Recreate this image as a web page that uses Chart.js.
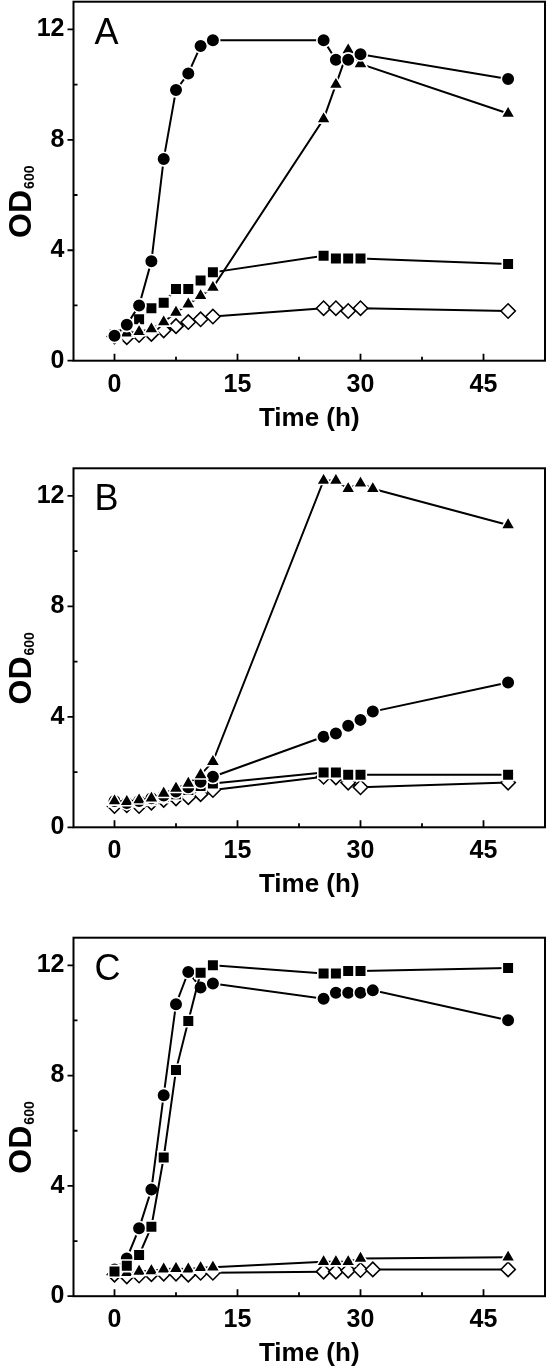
<!DOCTYPE html>
<html><head><meta charset="utf-8">
<script src="https://cdn.jsdelivr.net/npm/chart.js@4.4.1/dist/chart.umd.min.js"></script>
<style>
html,body{margin:0;padding:0;background:#fff;width:550px;height:1371px;overflow:hidden;position:relative}
canvas{position:absolute;left:0}
</style></head><body>
<canvas id="cA" width="550" height="460" style="top:0px"></canvas>
<canvas id="cB" width="550" height="470" style="top:460px"></canvas>
<canvas id="cC" width="550" height="441" style="top:930px"></canvas>
<script>
// ---------- data ----------
const xTicks = [0, 15, 30, 45];
const xMinorTicks = [7.5, 22.5, 37.5, 52.5];
const yTicks = [0, 4, 8, 12];
const yMinorTicks = [2, 6, 10];

const timeShort = [0, 1.5, 3, 4.5, 6, 7.5, 9, 10.5, 12, 25.5, 27, 28.5, 30, 48];
const timeLong  = [0, 1.5, 3, 4.5, 6, 7.5, 9, 10.5, 12, 25.5, 27, 28.5, 30, 31.5, 48];

// Panel A
const A_circle   = [0.9, 1.3, 2.0, 3.6, 7.3, 9.8, 10.4, 11.4, 11.6, 11.6, 10.9, 10.9, 11.1, 10.2];
const A_square   = [0.95, 1.15, 1.5, 1.9, 2.1, 2.6, 2.6, 2.9, 3.2, 3.8, 3.7, 3.7, 3.7, 3.5];
const A_triangle = [0.9, 1.0, 1.05, 1.15, 1.4, 1.75, 2.05, 2.35, 2.65, 8.75, 10.0, 11.25, 10.75, 8.95];
const A_diamond  = [0.88, 0.85, 0.93, 0.97, 1.1, 1.25, 1.4, 1.5, 1.6, 1.9, 1.9, 1.8, 1.9, 1.8];

// Panel B
const B_triangle = [0.95, 0.93, 0.99, 1.05, 1.23, 1.41, 1.59, 1.9, 2.38, 12.56, 12.56, 12.26, 12.46, 12.26, 10.95];
const B_circle   = [0.95, 0.88, 0.95, 1.05, 1.15, 1.3, 1.45, 1.65, 1.83, 3.28, 3.40, 3.68, 3.89, 4.19, 5.24];
const B_square   = [0.95, 0.9, 0.95, 1.0, 1.1, 1.2, 1.35, 1.5, 1.59, 1.98, 1.98, 1.9, 1.9, 1.9];
const B_diamond  = [0.77, 0.8, 0.77, 0.89, 0.99, 1.05, 1.09, 1.2, 1.35, 1.83, 1.81, 1.62, 1.45, 1.62];

// Panel C
const C_square   = [0.9, 1.1, 1.49, 2.52, 5.03, 8.2, 9.98, 11.73, 12.0, 11.7, 11.7, 11.79, 11.79, 11.9];
const C_circle   = [0.97, 1.37, 2.46, 3.87, 7.29, 10.59, 11.76, 11.19, 11.34, 10.79, 11.0, 11.0, 11.0, 11.09, 10.01];
const C_triangle = [0.85, 0.85, 0.9, 0.92, 0.98, 1.0, 0.98, 1.03, 1.05, 1.25, 1.25, 1.25, 1.37, 1.41];
const C_diamond  = [0.78, 0.72, 0.75, 0.8, 0.82, 0.82, 0.78, 0.85, 0.85, 0.89, 0.89, 0.93, 0.95, 0.97, 0.97];

// ---------- helpers ----------
const FONT = '"Liberation Sans", Arial, Helvetica, sans-serif';
Chart.defaults.font.family = FONT;
Chart.defaults.color = '#000';

function pts(xs, ys) { return ys.map((v, i) => ({ x: xs[i], y: v })); }

const styles = {
  circle:   { pointStyle: 'circle',   pointRadius: 6.8, pointBackgroundColor: '#000', pointBorderColor: '#fff', pointBorderWidth: 1.6 },
  square:   { pointStyle: 'rect',     pointRadius: 8.2, pointBackgroundColor: '#000', pointBorderColor: '#fff', pointBorderWidth: 1.6 },
  triangle: { pointStyle: 'triangle', pointRadius: 8.2, pointBackgroundColor: '#000', pointBorderColor: '#fff', pointBorderWidth: 1.6 },
  diamond:  { pointStyle: 'rectRot',  pointRadius: 7.2, pointBackgroundColor: '#fff', pointBorderColor: '#000', pointBorderWidth: 1.6 }
};

function ds(label, xs, ys, kind) {
  return Object.assign({
    label, data: pts(xs, ys), showLine: true, borderColor: '#000', borderWidth: 2,
    pointHoverRadius: 0, tension: 0
  }, styles[kind]);
}

const decor = {
  id: 'decor',
  afterDraw(chart, args, opts) {
    const { ctx, chartArea: a, scales: { x, y } } = chart;
    ctx.save();
    ctx.strokeStyle = '#000';
    ctx.lineWidth = 2;
    ctx.strokeRect(a.left, a.top, a.right - a.left, a.bottom - a.top);
    ctx.lineWidth = 1.8;
    ctx.beginPath();
    xTicks.forEach(v => { const p = x.getPixelForValue(v); ctx.moveTo(p, a.bottom); ctx.lineTo(p, a.bottom - 7); });
    xMinorTicks.forEach(v => { const p = x.getPixelForValue(v); ctx.moveTo(p, a.bottom); ctx.lineTo(p, a.bottom - 4); });
    yTicks.forEach(v => { const p = y.getPixelForValue(v); ctx.moveTo(a.left, p); ctx.lineTo(a.left - 6, p); });
    yMinorTicks.forEach(v => { const p = y.getPixelForValue(v); ctx.moveTo(a.left, p); ctx.lineTo(a.left + 4, p); });
    ctx.stroke();

    ctx.fillStyle = '#000';
    // panel letter
    ctx.font = '36px ' + FONT;
    ctx.textAlign = 'left';
    ctx.textBaseline = 'alphabetic';
    ctx.fillText(opts.letter, a.left + 21, a.top + 42);

    // x title
    ctx.font = 'bold 26px ' + FONT;
    ctx.textAlign = 'center';
    ctx.fillText('Time (h)', (a.left + a.right) / 2, a.bottom + 65);

    // y title OD600 with subscript
    const cy = (a.top + a.bottom) / 2 + 21;
    ctx.font = 'bold 32px ' + FONT;
    const w1 = ctx.measureText('OD').width;
    ctx.font = 'bold 14px ' + FONT;
    const w2 = ctx.measureText('600').width;
    const total = w1 + w2;
    ctx.translate(31, cy);
    ctx.rotate(-Math.PI / 2);
    ctx.textAlign = 'left';
    ctx.font = 'bold 32px ' + FONT;
    ctx.fillText('OD', -total / 2, 0);
    ctx.font = 'bold 14px ' + FONT;
    ctx.fillText('600', -total / 2 + w1 + 1, 3);
    ctx.restore();
  }
};

function makeChart(id, letter, datasets, topPad, xHeight) {
  return new Chart(document.getElementById(id), {
    type: 'scatter',
    data: { datasets },
    options: {
      responsive: false,
      animation: false,
      events: [],
      layout: { autoPadding: false, padding: { top: topPad, right: 5, left: 0, bottom: 0 } },
      plugins: { legend: { display: false }, tooltip: { enabled: false }, decor: { letter } },
      scales: {
        x: {
          type: 'linear', min: -5, max: 52.5,
          grid: { display: false, drawTicks: false },
          border: { display: false },
          afterBuildTicks: s => { s.ticks = xTicks.map(v => ({ value: v })); },
          afterFit: s => { s.height = xHeight; s.paddingLeft = 0; s.paddingRight = 0; },
          ticks: { font: { size: 25, weight: 'bold' }, padding: 9, maxRotation: 0, color: '#000' }
        },
        y: {
          type: 'linear', min: 0, max: 13,
          grid: { display: false, drawTicks: false },
          border: { display: false },
          afterBuildTicks: s => { s.ticks = yTicks.map(v => ({ value: v })); },
          afterFit: s => { s.width = 73.5; s.paddingTop = 0; s.paddingBottom = 0; },
          ticks: { font: { size: 25, weight: 'bold' }, padding: 9, color: '#000' }
        }
      }
    },
    plugins: [decor]
  });
}

makeChart('cA', 'A', [
  ds('circle', timeShort, A_circle, 'circle'),
  ds('triangle', timeShort, A_triangle, 'triangle'),
  ds('square', timeShort, A_square, 'square'),
  ds('diamond', timeShort, A_diamond, 'diamond')
], 1.7, 460 - 360.7);

makeChart('cB', 'B', [
  ds('triangle', timeLong, B_triangle, 'triangle'),
  ds('circle', timeLong, B_circle, 'circle'),
  ds('square', timeShort, B_square, 'square'),
  ds('diamond', timeShort, B_diamond, 'diamond')
], 8.3, 470 - 367.3);

makeChart('cC', 'C', [
  ds('square', timeShort, C_square, 'square'),
  ds('circle', timeLong, C_circle, 'circle'),
  ds('triangle', timeShort, C_triangle, 'triangle'),
  ds('diamond', timeLong, C_diamond, 'diamond')
], 7.7, 441 - 366.2);
</script>
</body></html>
